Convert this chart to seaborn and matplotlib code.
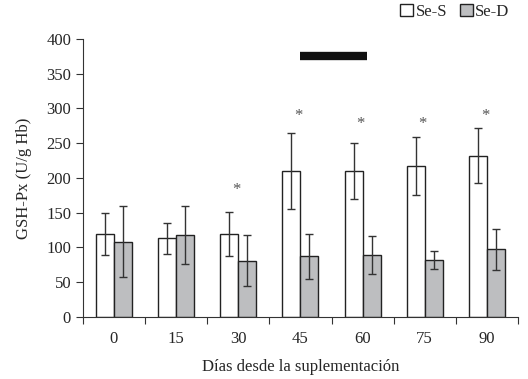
import numpy as np
import pandas as pd
import matplotlib.pyplot as plt
import seaborn as sns
from matplotlib.patches import Patch

dias = ["0", "15", "30", "45", "60", "75", "90"]
se_s = [119, 113, 119, 210, 210, 217, 232]
se_s_err = [30, 22, 32, 55, 40, 42, 40]
se_d = [108, 118, 81, 87, 89, 82, 97]
se_d_err = [51, 42, 37, 32, 27, 13, 29]
star_pos = ["30", "45", "60", "75", "90"]
star_y = [183, 289, 278, 278, 289]

df = pd.DataFrame({"dia": dias * 2,
                   "valor": se_s + se_d,
                   "grupo": ["Se-S"] * 7 + ["Se-D"] * 7})

sns.set_style("white")
plt.rcParams["font.family"] = ["Liberation Serif", "DejaVu Serif"]

fig = plt.figure(figsize=(5.28, 3.79), dpi=100)
ax = fig.add_axes([0.157, 0.164, 0.824, 0.733])

sns.barplot(ax=ax, data=df, x="dia", y="valor", hue="grupo",
            palette={"Se-S": "white", "Se-D": "#bdbec0"},
            edgecolor="#222222", linewidth=1.0, width=0.58,
            errorbar=None, legend=False)

# error bars on the bar centres
offs = 0.58 / 4
xs = np.arange(len(dias))
ax.errorbar(xs - offs, se_s, yerr=se_s_err, fmt="none", ecolor="#333333",
            elinewidth=1.0, capsize=2.6, capthick=1.0)
ax.errorbar(xs + offs, se_d, yerr=se_d_err, fmt="none", ecolor="#333333",
            elinewidth=1.0, capsize=2.6, capthick=1.0)

for d, yv in zip(star_pos, star_y):
    ax.text(dias.index(d) - 0.03, yv, "*", ha="center", va="center",
            fontsize=12, color="#555555")

# black bar between 45 and 60
ax.plot([dias.index("45"), dias.index("60") + 0.07], [375, 375],
        color="#111111", linewidth=6, solid_capstyle="butt")

ax.set_ylim(0, 400)
ax.set_xlim(-0.5, 6.5)
ax.set_yticks(range(0, 401, 50))
ax.set_xticks(xs)
ax.set_xticks(np.arange(-0.5, 7, 1), minor=True)
ax.tick_params(axis="x", which="major", length=0, pad=10, labelsize=12)
ax.tick_params(axis="x", which="minor", length=5, width=0.8, direction="out",
               bottom=True, color="#333333")
ax.tick_params(axis="y", length=5, width=0.8, direction="out", left=True,
               labelsize=12, color="#333333")
sns.despine(ax=ax)
for s in ["left", "bottom"]:
    ax.spines[s].set_color("#333333")
    ax.spines[s].set_linewidth(0.8)

ax.set_xlabel("Días desde la suplementación", fontsize=12, labelpad=9)
ax.set_ylabel("GSH-Px (U/g Hb)", fontsize=12, labelpad=10)

# legend
handles = [Patch(facecolor="white", edgecolor="#222222", label="Se-S"),
           Patch(facecolor="#bdbec0", edgecolor="#222222", label="Se-D")]
fig.legend(handles=handles, loc="upper right", bbox_to_anchor=(0.965, 0.99),
           ncol=2, frameon=False, fontsize=12, handlelength=0.75,
           handleheight=0.75, handletextpad=0.15, columnspacing=0.8,
           borderpad=0, borderaxespad=0)

fig.savefig("out.png", dpi=100)
